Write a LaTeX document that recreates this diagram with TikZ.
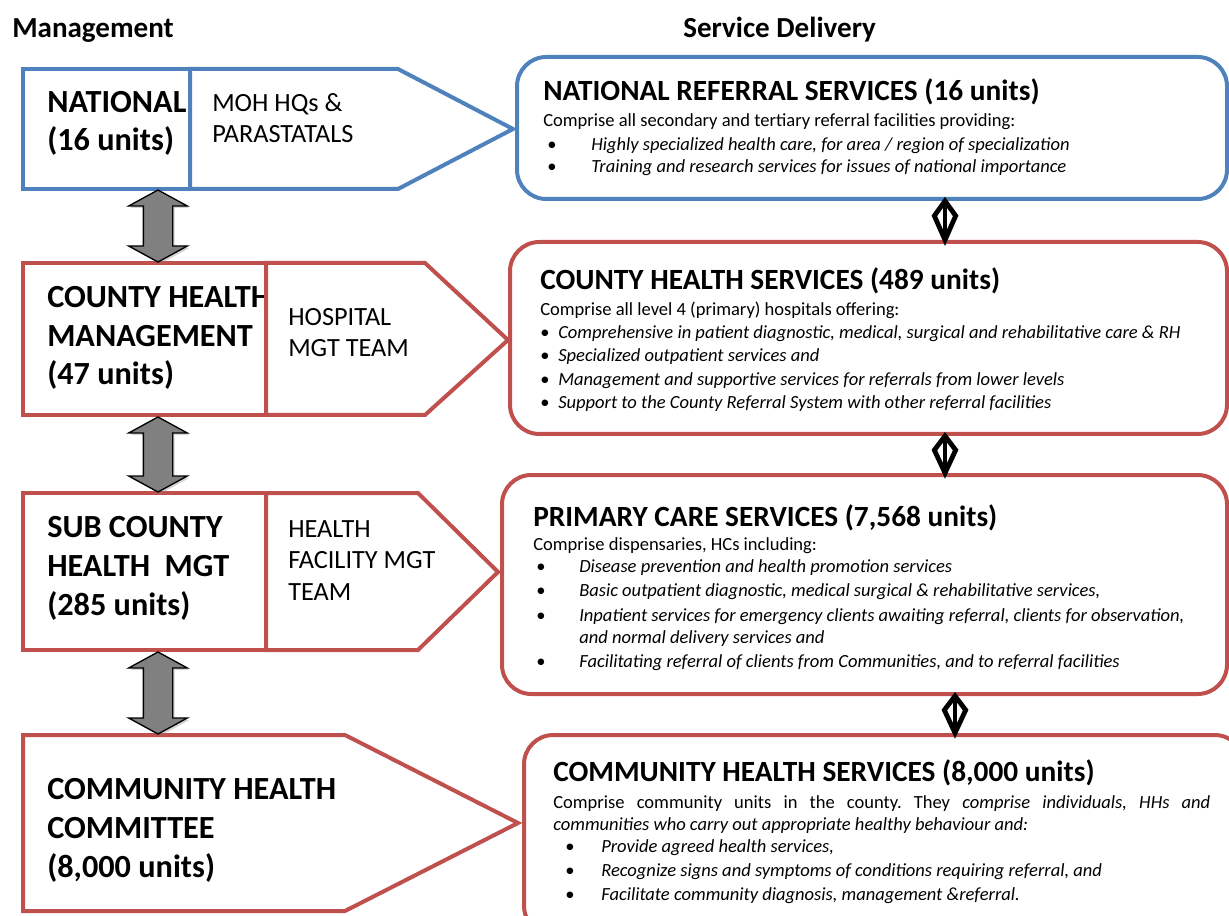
\documentclass[tikz,border=0pt]{standalone}
\usepackage{fontspec}
\setmainfont{Carlito}
\usetikzlibrary{calc,shadows}

\definecolor{natblue}{HTML}{4F81BD}
\definecolor{cntred}{HTML}{C0504D}

\tikzset{
  head/.style={font=\fontsize{21.8}{26}\selectfont\bfseries, anchor=base west, inner sep=0pt},
  mgmt/.style={font=\fontsize{24.2}{29}\selectfont\bfseries, anchor=base west, align=left, inner sep=0pt},
  team/.style={font=\fontsize{19.7}{23.6}\selectfont, anchor=base west, align=left, inner sep=0pt},
  ttl/.style={font=\fontsize{22}{26}\selectfont\bfseries, anchor=base west, inner sep=0pt},
  txt/.style={font=\fontsize{13.9}{17.6}\selectfont, anchor=base west, inner sep=0pt},
  itm/.style={font=\fontsize{13.9}{17.6}\selectfont\itshape, anchor=base west, inner sep=0pt},
  lvl/.style={line width=3pt, line join=miter},
  svc/.style={line width=3pt, rounded corners=22pt, fill=white, anchor=north west},
  updown/.style={fill=gray, draw=black, line width=1pt,
    drop shadow={shadow xshift=1.5pt, shadow yshift=-1.5pt, opacity=.35}},
  link/.style={fill=white, draw=black, line width=3.6pt, line join=miter,
    drop shadow={shadow xshift=1pt, shadow yshift=-1pt, opacity=.35}}
}

% gray double arrow between two management levels
\newcommand{\mgtarrow}[2]{%
  \draw[updown] let \p1=(#1), \p2=(#2) in
    (\p1) -- ++(22pt,-12pt) -- ++(-11pt,0pt) -- (\x1+11pt,\y2+12pt) -- ++(11pt,0pt)
    -- (\p2) -- ++(-22pt,12pt) -- ++(11pt,0pt) -- (\x1-11pt,\y1-12pt) -- ++(-11pt,0pt) -- cycle;}
% small diamond link between two service levels
\newcommand{\svclink}[2]{%
  \draw[link] let \p1=(#1), \p2=(#2) in
    (\p1) -- (\x1+8pt,{0.62*\y1+0.38*\y2}) -- (\p2) -- (\x1-8pt,{0.62*\y1+0.38*\y2}) -- cycle;
  \draw[line width=2.4pt] (#1) -- (#2);}

\begin{document}
\frenchspacing
\begin{tikzpicture}[x=0.75pt, y=-0.75pt]
  \useasboundingbox (0,0) rectangle (1229,916);
  \clip (0,0) rectangle (1229,916);

  % Column headings
  \node[head] (mgt) at (12,38) {Management};
  \node[head] (svd) at (683,38) {Service Delivery};

  % ---------- Management levels ----------
  % National
  \node[mgmt] (nat) at (47,151) {NATIONAL\\(16 units)};
  \draw[lvl, draw=natblue, fill=white] (190,69) -- (398,69) -- (513,129) -- (398,189) -- (190,189) -- cycle;
  \draw[lvl, draw=natblue] (190,69) -- (23,69) -- (23,189) -- (190,189);
  \node[team] (nat-t) at (212,143) {MOH HQs \&\\PARASTATALS};
  \coordinate (nat-s) at (158,190);

  % County
  \node[mgmt] (chm) at (47,385) {COUNTY HEALTH\\MANAGEMENT\\(47 units)};
  \draw[lvl, draw=cntred, fill=white] (266,263) -- (425,263) -- (508,340) -- (425,415) -- (266,415) -- cycle;
  \draw[lvl, draw=cntred] (266,263) -- (23,263) -- (23,415) -- (266,415);
  \node[team] (chm-t) at (288,357) {HOSPITAL\\MGT TEAM};
  \coordinate (chm-n) at (158,262);
  \coordinate (chm-s) at (158,417);

  % Sub county
  \node[mgmt] (sch) at (47,615) {SUB COUNTY\\HEALTH\ \ MGT\\(285 units)};
  \draw[lvl, draw=cntred, fill=white] (266,493) -- (418,493) -- (498,572) -- (418,650) -- (266,650) -- cycle;
  \draw[lvl, draw=cntred] (266,493) -- (23,493) -- (23,650) -- (266,650);
  \node[team] (sch-t) at (288,600) {HEALTH\\FACILITY MGT\\TEAM};
  \coordinate (sch-n) at (158,492);
  \coordinate (sch-s) at (158,652);

  % Community
  \draw[lvl, draw=cntred, fill=white] (23,735) -- (345,735) -- (518,823) -- (345,911) -- (23,911) -- cycle;
  \node[mgmt] (chc) at (47,877) {COMMUNITY HEALTH\\COMMITTEE\\(8,000 units)};
  \coordinate (chc-n) at (158,734);

  \mgtarrow{nat-s}{chm-n}
  \mgtarrow{chm-s}{sch-n}
  \mgtarrow{sch-s}{chc-n}

  % ---------- Service delivery ----------
  \node[svc, draw=natblue, minimum width=532.5pt, minimum height=106.5pt] (nrs) at (515,55) {};
  \node[svc, draw=cntred, minimum width=537.75pt, minimum height=144pt] (chs) at (508,240) {};
  \node[svc, draw=cntred, minimum width=543.75pt, minimum height=164.25pt] (pcs) at (500,473) {};
  \node[svc, draw=cntred, minimum width=540pt, minimum height=150pt] (cms) at (522,733) {};

  \svclink{945,0 |- nrs.south}{945,0 |- chs.north}
  \svclink{945,0 |- chs.south}{945,0 |- pcs.north}
  \svclink{955,0 |- pcs.south}{955,0 |- cms.north}

  % National referral services
  \node[ttl] (nrs-t) at (543,101) {NATIONAL REFERRAL SERVICES (16 units)};
  \node[txt] (nrs-c) at (543,127) {Comprise all secondary and tertiary referral facilities providing:};
  \foreach \y/\t [count=\i] in {151/{Highly specialized health care, for area / region of specialization},
      173/{Training and research services for issues of national importance}} {
    \node[txt] (nrs-b\i) at (547,\y) {\textbullet};
    \node[itm] (nrs-i\i) at (591,\y) {\t};
  }

  % County health services
  \node[ttl] (chs-t) at (540,290) {COUNTY HEALTH SERVICES (489 units)};
  \node[txt] (chs-c) at (540,316) {Comprise all level 4 (primary) hospitals offering:};
  \begin{scope}
    \clip (500,240) rectangle (1225,411);
    \foreach \y/\t [count=\i] in {339/{Comprehensive in patient diagnostic, medical, surgical and rehabilitative care \& RH},
        362/{Specialized outpatient services and},
        386/{Management and supportive services for referrals from lower levels},
        409/{Support to the County Referral System with other referral facilities}} {
      \node[txt] (chs-b\i) at (540,\y) {\textbullet};
      \node[itm] (chs-i\i) at (558,\y) {\t};
    }
  \end{scope}

  % Primary care services
  \node[ttl] (pcs-t) at (533,526) {PRIMARY CARE SERVICES (7,568 units)};
  \node[txt] (pcs-c) at (533,550) {Comprise dispensaries, HCs including:};
  \foreach \y/\t [count=\i] in {572/{Disease prevention and health promotion services},
      596/{Basic outpatient diagnostic, medical surgical \& rehabilitative services,},
      621/{Inpatient services for emergency clients awaiting referral, clients for observation,},
      667/{Facilitating referral of clients from Communities, and to referral facilities}} {
    \node[txt] (pcs-b\i) at (536,\y) {\textbullet};
    \node[itm] (pcs-i\i) at (579,\y) {\t};
  }
  \node[itm] (pcs-i3b) at (579,643) {and normal delivery services and};

  % Community health services
  \node[ttl] (cms-t) at (553,781) {COMMUNITY HEALTH SERVICES (8,000 units)};
  \node[txt] (cms-c) at (553,808) {\makebox[492.75pt][s]{Comprise community units in the county. They \textit{comprise individuals, HHs and}}};
  \node[itm] (cms-c2) at (553,830) {communities who carry out appropriate healthy behaviour and:};
  \begin{scope}
    \clip (500,733) rectangle (1229,903);
    \foreach \y/\t [count=\i] in {852/{Provide agreed health services,},
        876/{Recognize signs and symptoms of conditions requiring referral, and},
        900/{Facilitate community diagnosis, management \&referral.}} {
      \node[txt] (cms-b\i) at (565,\y) {\textbullet};
      \node[itm] (cms-i\i) at (601,\y) {\t};
    }
  \end{scope}
\end{tikzpicture}
\end{document}
